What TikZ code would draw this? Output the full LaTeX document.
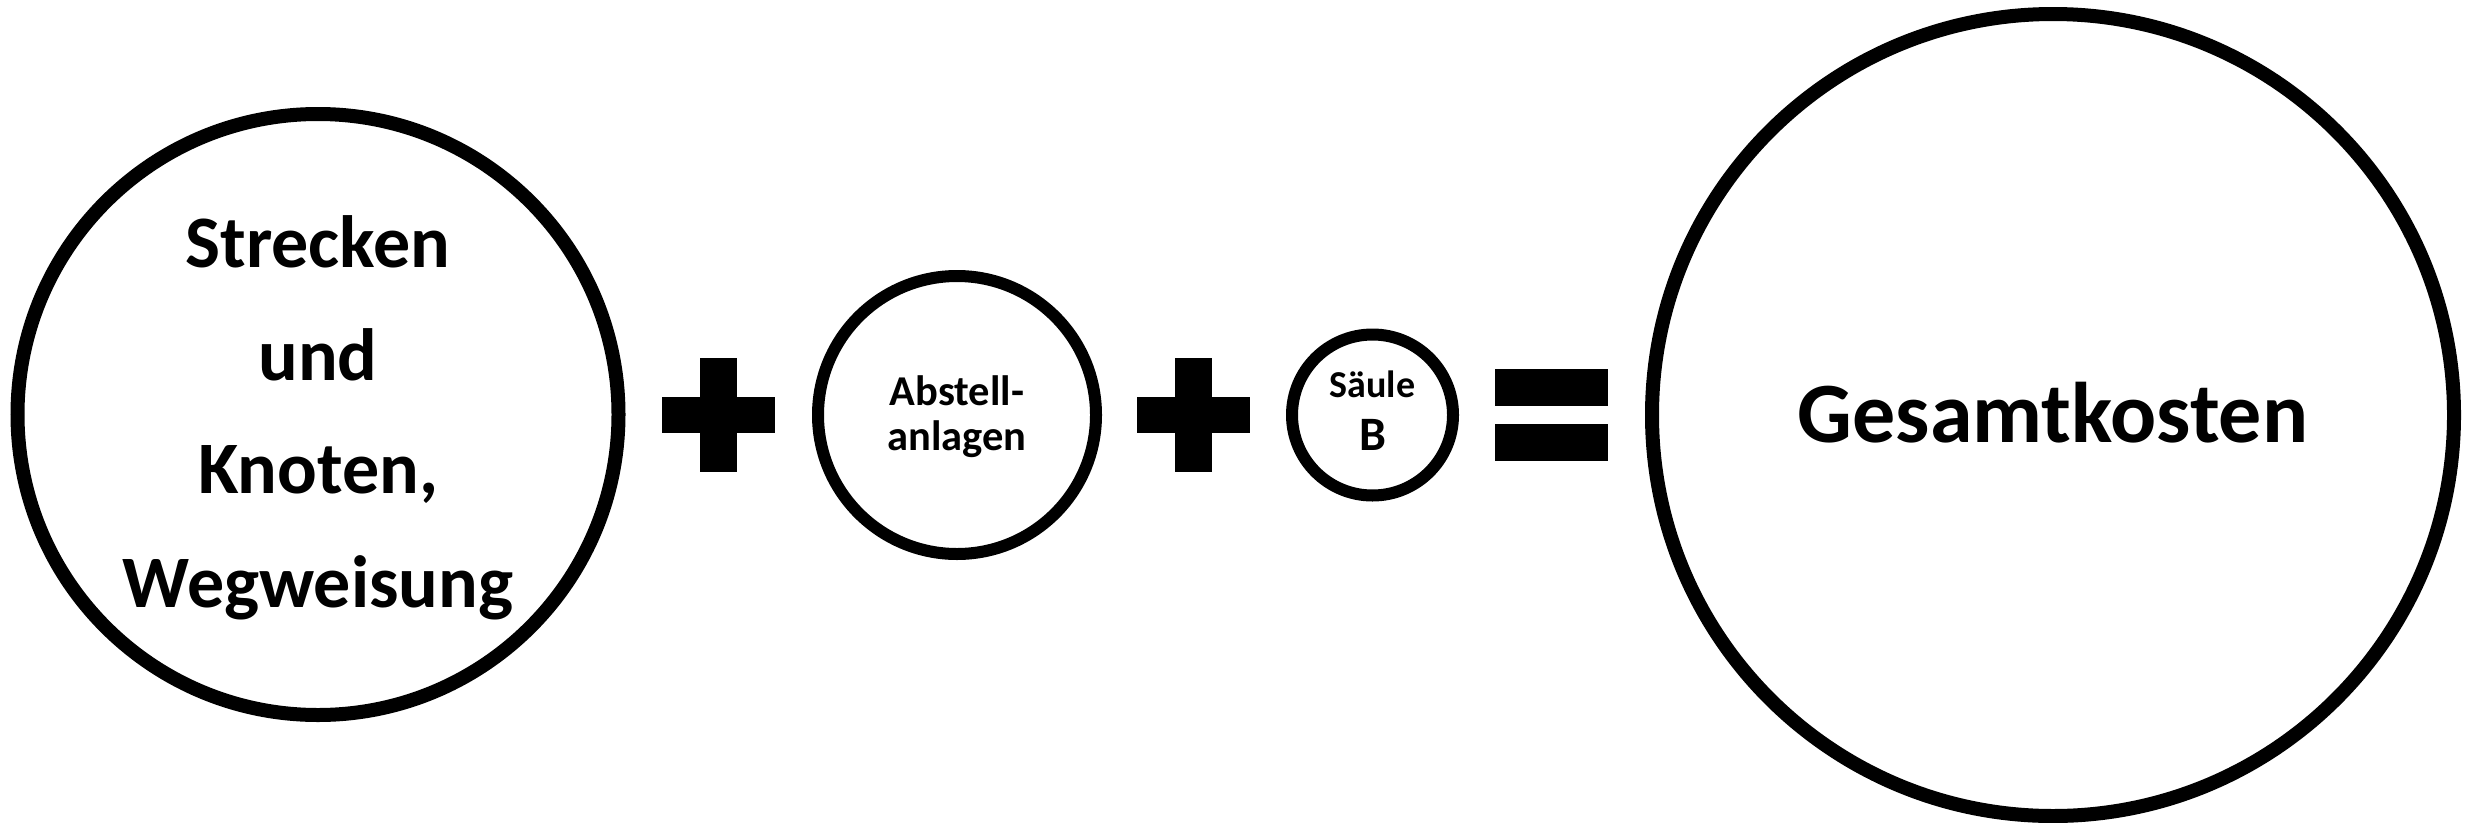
\documentclass[tikz,border=0pt]{standalone}
\usepackage{fontspec}
\setmainfont{Carlito}
\begin{document}
\begin{tikzpicture}[x=1pt,y=-1pt,
  ring/.style={draw=black,circle,line width=#1,inner sep=0pt},
  txt/.style={anchor=base,inner sep=0pt,font=\bfseries\fontsize{#1}{#1}\selectfont},
  bar/.style={fill=black,draw=none}]
\useasboundingbox (0,0) rectangle (2465,822);
\fill[white] (0,0) rectangle (2465,822);
% circles
\node[ring=14pt,minimum size=601pt] (c1) at (318,414.5) {};
\node[ring=12pt,minimum size=278pt] (c2) at (957,415) {};
\node[ring=12pt,minimum size=161pt] (c3) at (1372.5,415) {};
\node[ring=14pt,minimum size=802pt] (c4) at (2053,415) {};
% texts
\node[txt=74pt] (t1a) at (318,267) {Strecken};
\node[txt=74pt] (t1b) at (318,380) {und};
\node[txt=74pt] (t1c) at (318,493) {Knoten,};
\node[txt=74pt] (t1d) at (318,607) {Wegweisung};
\node[txt=42.5pt] (t2a) at (957,405) {Abstell-};
\node[txt=42.5pt] (t2b) at (957,450) {anlagen};
\node[txt=38pt] (t3a) at (1372.5,397) {Säule};
\node[txt=48pt] (t3b) at (1372.5,450) {B};
\node[txt=86pt] (t4) at (2053,442) {Gesamtkosten};
% plus signs
\fill[bar] (662,397) rectangle (775,433);
\fill[bar] (700,358) rectangle (737,472);
\fill[bar] (1137,397) rectangle (1250,433);
\fill[bar] (1175,358) rectangle (1212,472);
% equals
\fill[bar] (1495,369) rectangle (1608,406);
\fill[bar] (1495,424) rectangle (1608,461);
\end{tikzpicture}
\end{document}
